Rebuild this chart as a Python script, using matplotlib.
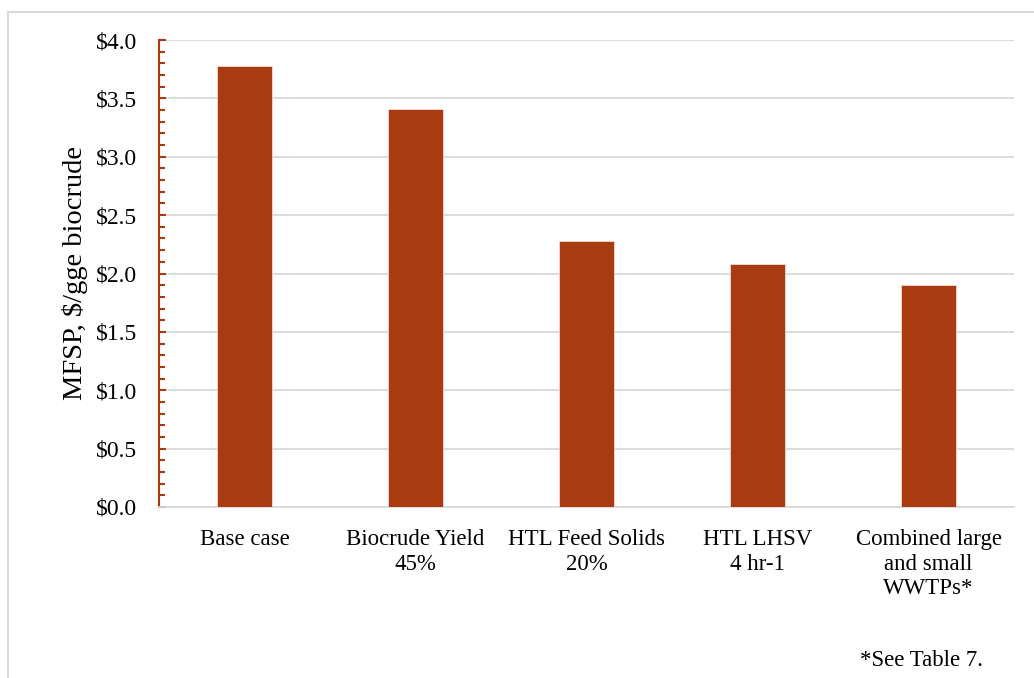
import matplotlib.pyplot as plt
from matplotlib.patches import Rectangle
from matplotlib.ticker import MultipleLocator, FuncFormatter

# dados do grafico
categorias = ["Base case", "Biocrude Yield\n45%", "HTL Feed Solids\n20%",
              "HTL LHSV\n4 hr-1", "Combined large\nand small\nWWTPs*"]
mfsp = [3.78, 3.41, 2.28, 2.08, 1.90]
rotulo_y = "MFSP, $/gge biocrude"
nota = "*See Table 7."

cor_barra = "#A93B10"
cor_grade = "#D9D9D9"

plt.rcParams['font.family'] = ['Liberation Serif', 'DejaVu Serif']

fig = plt.figure(figsize=(10.34, 6.78), dpi=100)

# moldura cinza clara em volta do grafico
fig.patches.append(Rectangle((8 / 1034, -0.05), 1.1, 1 - 12 / 678 + 0.05,
                             transform=fig.transFigure, fill=False,
                             edgecolor=cor_grade, linewidth=1.5))

ax = fig.add_axes([159 / 1034, 1 - 507 / 678, 855 / 1034, 467 / 678])

x = range(len(categorias))
ax.bar(x, mfsp, width=0.316, color=cor_barra, edgecolor="#F3D9CF",
       linewidth=0.6, zorder=3)

ax.set_xlim(-0.5, len(categorias) - 0.5)
ax.set_ylim(0, 4.0)
ax.yaxis.set_major_locator(MultipleLocator(0.5))
ax.yaxis.set_minor_locator(MultipleLocator(0.1))
ax.yaxis.set_major_formatter(FuncFormatter(lambda v, p: f"${v:.1f}"))
ax.grid(axis="y", color=cor_grade, linewidth=1.3, zorder=0)

ax.set_xticks(list(x))
ax.set_xticklabels(categorias, fontsize=16.5, linespacing=1.22)
ax.tick_params(axis="x", length=0, pad=16)
ax.tick_params(axis="y", which="both", direction="in", color=cor_barra,
               width=1.5, labelsize=17, pad=16)
ax.tick_params(axis="y", which="major", length=5)
ax.tick_params(axis="y", which="minor", length=4)

for lado in ["top", "right"]:
    ax.spines[lado].set_visible(False)
ax.spines["left"].set_color(cor_barra)
ax.spines["left"].set_linewidth(1.5)
ax.spines["bottom"].set_color(cor_grade)
ax.spines["bottom"].set_linewidth(1.3)

ax.set_ylabel(rotulo_y, fontsize=20.5)
ax.yaxis.set_label_coords(-0.083, 0.5)

fig.text(921 / 1034, 1 - 660 / 678, nota, fontsize=16.5, ha="center", va="center")

fig.savefig("out.png", dpi=100)
